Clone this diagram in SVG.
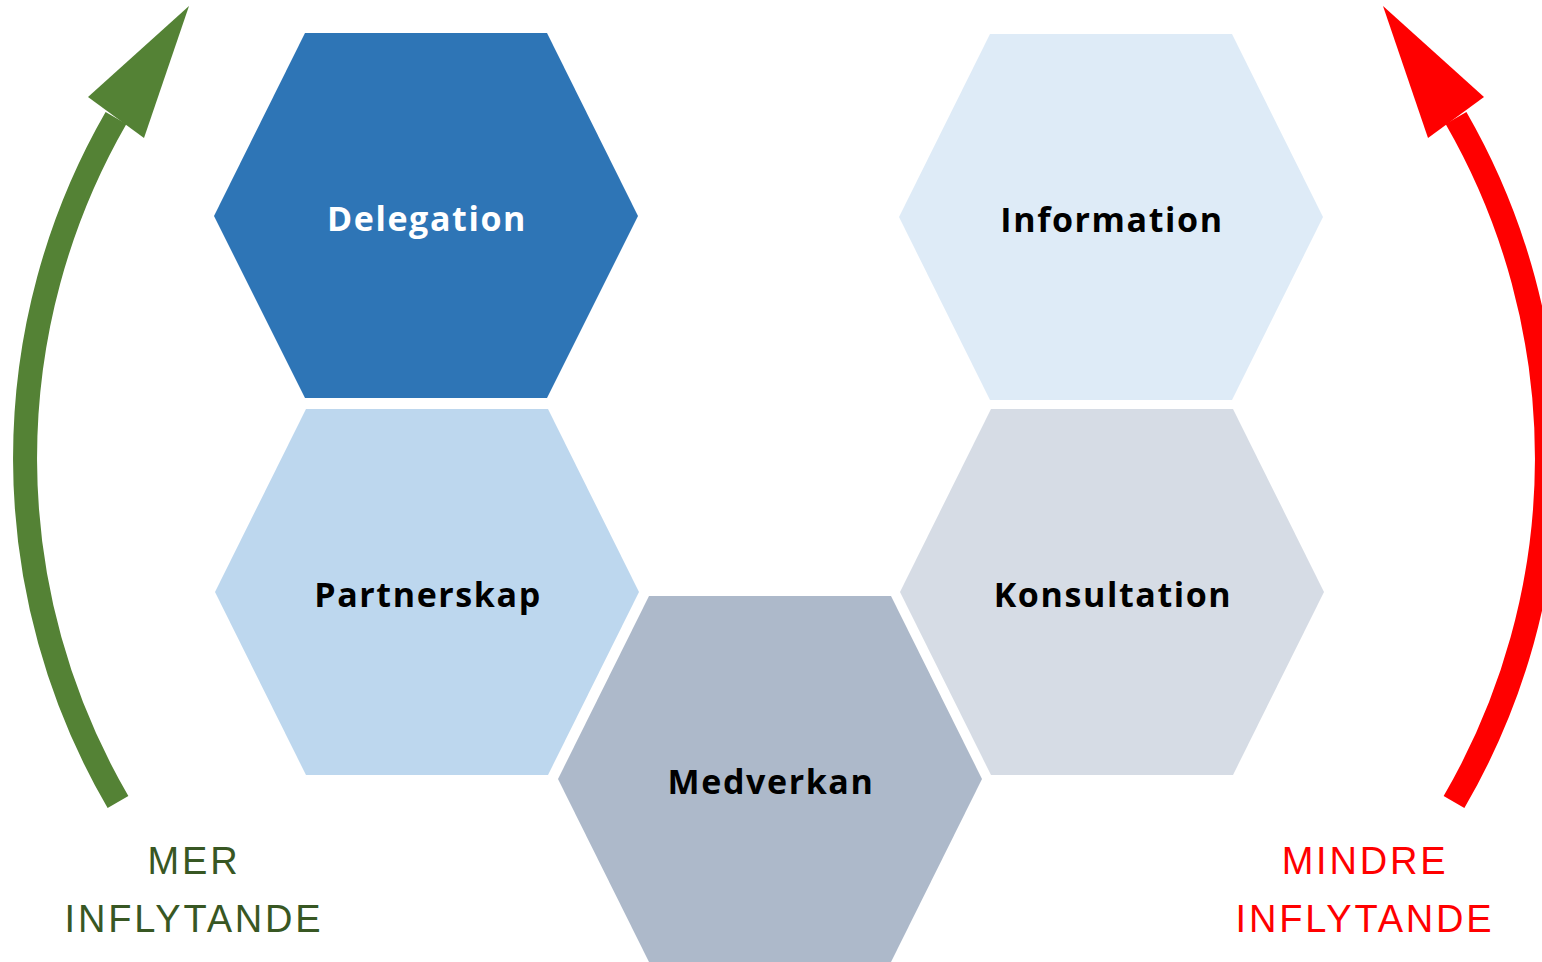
<svg xmlns="http://www.w3.org/2000/svg" width="1542" height="962" viewBox="0 0 1542 962">
<style>
.lbl{font-family:"Open Sans","Liberation Sans",sans-serif;font-weight:700;font-size:34px;letter-spacing:1.6px;text-anchor:middle}
.side{font-family:"Liberation Sans",sans-serif;font-size:38px;letter-spacing:2.8px;text-anchor:middle}
</style>
<rect width="1542" height="962" fill="#ffffff"/>
<g id="connectors">
  <g id="arrow-more">
    <path d="M118 802 A682 682 0 0 1 116 118" fill="none" stroke="#548235" stroke-width="24"/>
    <polygon points="189,6 88,97 144,138" fill="#548235"/>
  </g>
  <g id="arrow-less" transform="translate(1572,0) scale(-1,1)">
    <path d="M118 802 A682 682 0 0 1 116 118" fill="none" stroke="#FF0000" stroke-width="24"/>
    <polygon points="189,6 88,97 144,138" fill="#FF0000"/>
  </g>
</g>
<g id="delegation">
  <polygon points="305,33 547,33 638,216 547,398 305,398 214,216" fill="#2E75B6"/>
  <text class="lbl" x="427" y="231" fill="#ffffff">Delegation</text>
</g>
<g id="partnerskap">
  <polygon points="306,409 548,409 639,592 548,775 306,775 215,592" fill="#BDD7EE"/>
  <text class="lbl" x="428" y="607" fill="#000000">Partnerskap</text>
</g>
<g id="information">
  <polygon points="990,34 1232,34 1323,217 1232,400 990,400 899,217" fill="#DEEBF7"/>
  <text class="lbl" x="1112" y="232" fill="#000000">Information</text>
</g>
<g id="konsultation">
  <polygon points="991,409 1233,409 1324,592 1233,775 991,775 900,592" fill="#D6DCE5"/>
  <text class="lbl" x="1113" y="607" fill="#000000">Konsultation</text>
</g>
<g id="medverkan">
  <polygon points="649,596 891,596 982,779 891,962 649,962 558,779" fill="#ADB9CA" stroke="#ffffff" stroke-width="8" stroke-linejoin="miter"/>
  <polygon points="649,596 891,596 982,779 891,962 649,962 558,779" fill="#ADB9CA"/>
  <text class="lbl" x="771" y="794" fill="#000000">Medverkan</text>
</g>
<g id="label-more">
  <text class="side" x="194" y="874" fill="#385723">MER</text>
  <text class="side" x="194" y="932" fill="#385723">INFLYTANDE</text>
</g>
<g id="label-less">
  <text class="side" x="1365" y="874" fill="#FF0000">MINDRE</text>
  <text class="side" x="1365" y="932" fill="#FF0000">INFLYTANDE</text>
</g>
</svg>
